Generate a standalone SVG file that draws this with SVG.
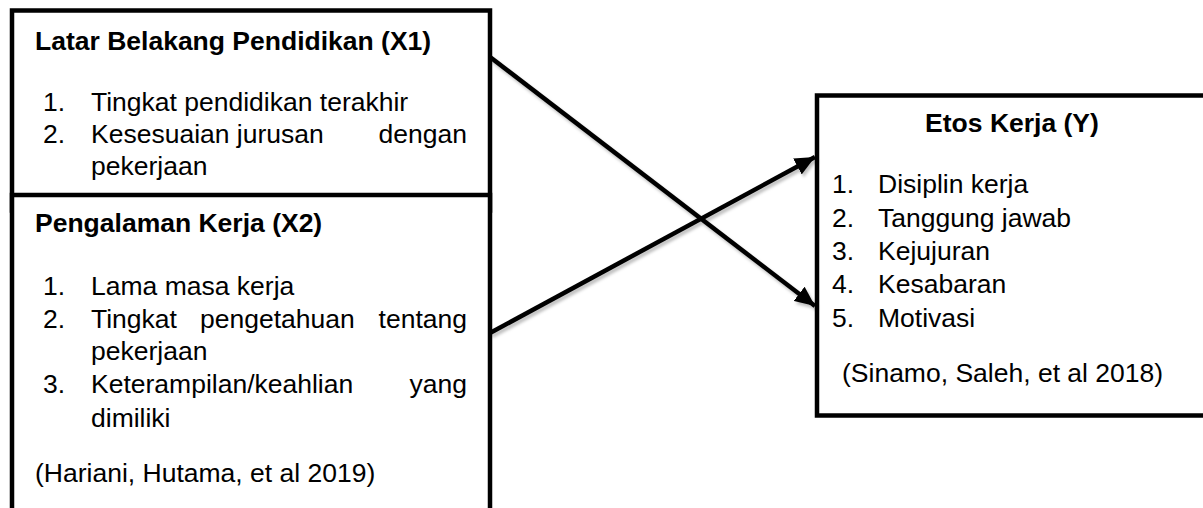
<svg xmlns="http://www.w3.org/2000/svg" width="1203" height="508" viewBox="0 0 1203 508">
<style>
.box{fill:#fff;stroke:#000;stroke-width:4.5}
.t{font-family:"Liberation Sans",Arial,sans-serif;font-size:26.5px;fill:#000}
.b{font-weight:bold}
.e{text-anchor:end}
.m{text-anchor:middle}
.conn{stroke:#000;stroke-width:4.5;fill:none}
</style>
<defs>
<marker id="ah" markerUnits="userSpaceOnUse" markerWidth="22" markerHeight="18" refX="20" refY="9" orient="auto">
<path d="M0,0 L20,9 L0,18 Z" fill="#000"/>
</marker>
<filter id="sh" x="-10%" y="-10%" width="120%" height="120%">
<feDropShadow dx="2" dy="3" stdDeviation="1.5" flood-color="#000" flood-opacity="0.25"/>
</filter>
</defs>
<rect width="1203" height="508" fill="#fff"/>
<g id="node-x1">
<rect class="box" x="12" y="10.5" width="478" height="200"/>
<text class="t b" x="35" y="50">Latar Belakang Pendidikan (X1)</text>
<text class="t" x="43" y="111">1.</text>
<text class="t" x="91" y="111">Tingkat pendidikan terakhir</text>
<text class="t" x="43" y="143">2.</text>
<text class="t" x="91" y="143">Kesesuaian jurusan</text>
<text class="t e" x="467" y="143">dengan</text>
<text class="t" x="91" y="175">pekerjaan</text>
</g>
<g id="node-x2">
<rect class="box" x="12" y="195" width="478" height="330"/>
<text class="t b" x="35" y="232">Pengalaman Kerja (X2)</text>
<text class="t" x="43" y="295">1.</text>
<text class="t" x="91" y="295">Lama masa kerja</text>
<text class="t" x="43" y="328">2.</text>
<text class="t" x="91" y="328">Tingkat</text>
<text class="t" x="200" y="328">pengetahuan</text>
<text class="t e" x="467" y="328">tentang</text>
<text class="t" x="91" y="360">pekerjaan</text>
<text class="t" x="43" y="393">3.</text>
<text class="t" x="91" y="393">Keterampilan/keahlian</text>
<text class="t e" x="467" y="393">yang</text>
<text class="t" x="91" y="427">dimiliki</text>
<text class="t" x="35" y="482">(Hariani, Hutama, et al 2019)</text>
</g>
<g id="node-y">
<rect class="box" x="817" y="95.5" width="400" height="320"/>
<text class="t b m" x="1012" y="132">Etos Kerja (Y)</text>
<text class="t" x="832" y="193">1.</text>
<text class="t" x="878" y="193">Disiplin kerja</text>
<text class="t" x="832" y="227">2.</text>
<text class="t" x="878" y="227">Tanggung jawab</text>
<text class="t" x="832" y="260">3.</text>
<text class="t" x="878" y="260">Kejujuran</text>
<text class="t" x="832" y="293">4.</text>
<text class="t" x="878" y="293">Kesabaran</text>
<text class="t" x="832" y="327">5.</text>
<text class="t" x="878" y="327">Motivasi</text>
<text class="t" x="842" y="382">(Sinamo, Saleh, et al 2018)</text>
</g>
<g id="connectors" filter="url(#sh)">
<line class="conn" x1="490" y1="57" x2="815" y2="306" marker-end="url(#ah)"/>
<line class="conn" x1="490" y1="333" x2="815" y2="157" marker-end="url(#ah)"/>
</g>
</svg>
